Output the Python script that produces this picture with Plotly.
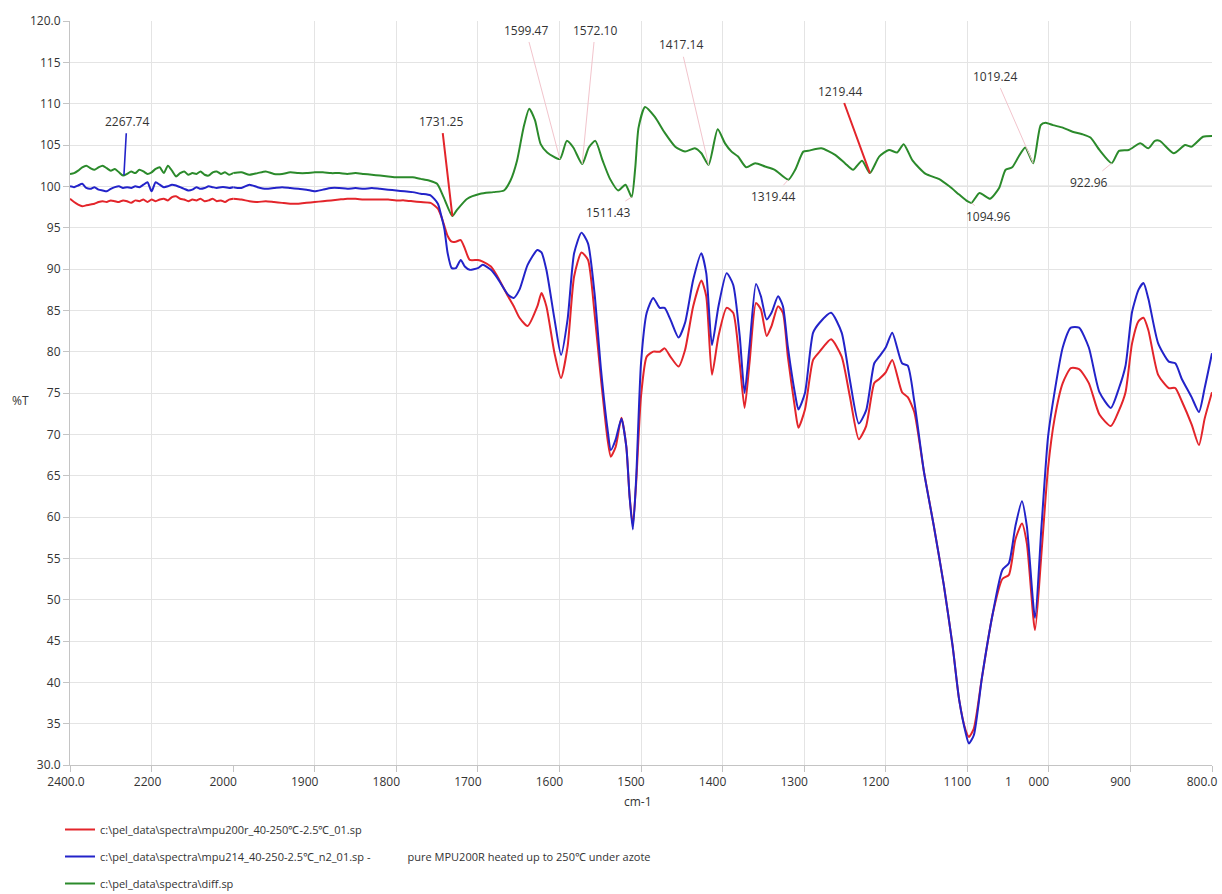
import numpy as np
import plotly.graph_objects as go

# ---------------------------------------------------------------------------
# Spectra (%T versus wavenumber, cm-1)
# ---------------------------------------------------------------------------
# noisy high-wavenumber section, 10 cm-1 steps from 2400 down to 1770
wn_noise = list(range(2400, 1760, -10))

red_noise = [
    98.5, 98.1, 97.8, 97.6, 97.7, 97.8, 97.9, 98.1, 98.2, 98.1,
    98.3, 98.2, 98.1, 98.3, 98.2, 98.0, 98.3, 98.2, 98.4, 98.1,
    98.4, 98.2, 98.4, 98.5, 98.3, 98.7, 98.8, 98.5, 98.4, 98.2,
    98.4, 98.3, 98.5, 98.2, 98.3, 98.5, 98.2, 98.3, 98.1, 98.4,
    98.5, 98.4, 98.2, 98.1, 98.2, 98.1, 98.0, 97.9, 97.9, 98.0,
    98.1, 98.2, 98.3, 98.4, 98.5, 98.5, 98.4, 98.4, 98.4, 98.4,
    98.3, 98.3, 98.2, 98.1,
]
blue_noise = [
    100.0, 99.9, 100.1, 100.3, 99.8, 99.7, 99.9, 99.6, 99.5, 99.4,
    99.7, 99.9, 100.0, 99.8, 99.9, 99.8, 100.0, 99.9, 100.2, 100.5,
    99.4, 100.5, 100.2, 99.9, 100.0, 100.2, 100.1, 99.9, 99.7, 99.5,
    99.6, 99.9, 99.7, 99.8, 100.0, 99.9, 99.8, 99.9, 99.9, 99.8,
    99.9, 99.8, 100.2, 99.9, 99.7, 99.8, 99.9, 99.8, 99.7, 99.6,
    99.4, 99.6, 99.8, 99.8, 99.7, 99.8, 99.7, 99.8, 99.7, 99.6,
    99.5, 99.4, 99.3, 99.1,
]
green_noise = [
    101.5, 101.6, 101.9, 102.3, 102.5, 102.2, 102.0, 102.3, 102.5, 102.2,
    101.9, 102.1, 101.7, 101.3, 101.5, 101.8, 101.6, 102.0, 101.8, 101.5,
    101.7, 102.1, 102.3, 101.6, 102.5, 101.9, 101.2, 101.6, 101.8, 101.4,
    101.6, 101.5, 101.8, 101.4, 101.3, 101.7, 101.8, 101.5, 101.7, 101.4,
    101.6, 101.7, 101.4, 101.6, 101.8, 101.5, 101.5, 101.7, 101.6, 101.6,
    101.7, 101.7, 101.6, 101.6, 101.5, 101.6, 101.5, 101.4, 101.3, 101.2,
    101.1, 101.1, 101.1, 100.9,
]

# fingerprint section of the two sample spectra (shared wavenumbers)
wn_band = [
    1758, 1749, 1745, 1741, 1737, 1732, 1727, 1721, 1716, 1710,
    1700, 1694, 1684, 1676, 1663, 1656, 1649, 1639, 1627, 1622,
    1616, 1606, 1598, 1590, 1582, 1573, 1565, 1557, 1549, 1541,
    1537, 1531, 1524, 1518, 1514, 1510, 1506, 1500, 1493, 1485,
    1477, 1471, 1464, 1454, 1446, 1436, 1426, 1420, 1413, 1405,
    1395, 1387, 1379, 1373, 1367, 1359, 1353, 1346, 1340, 1332,
    1326, 1320, 1311, 1307, 1299, 1289, 1281, 1267, 1254, 1244,
    1233, 1224, 1214, 1208, 1200, 1192, 1180, 1173, 1165, 1153,
    1141, 1129, 1118, 1110, 1102, 1098, 1092, 1082, 1069, 1057,
    1049, 1041, 1033, 1027, 1017, 1009, 1001, 993, 983, 973,
    963, 951, 938, 924, 914, 906, 898, 890, 884, 878,
    866, 853, 845, 837, 825, 816, 809, 800,
]
red_band = [
    98.0, 97.3, 96.4, 95.2, 94.0, 93.3, 93.3, 93.5, 92.5, 91.1,
    91.1, 90.9, 90.3, 89.1, 86.7, 85.5, 84.1, 83.1, 85.5, 87.1,
    85.5, 79.8, 76.8, 80.6, 89.1, 92.0, 91.1, 84.7, 76.6, 69.4,
    67.3, 68.5, 72.0, 68.5, 62.5, 59.0, 64.0, 74.6, 79.4, 80.0,
    80.0, 80.4, 79.4, 78.2, 80.2, 85.5, 88.6, 86.7, 77.2, 81.9,
    85.3, 84.7, 78.6, 73.2, 78.6, 85.9, 85.1, 81.9, 83.1, 85.5,
    84.7, 79.4, 73.0, 70.8, 73.0, 79.0, 80.0, 81.5, 79.4, 74.6,
    69.4, 71.0, 76.2, 76.7, 77.5, 79.0, 75.1, 74.5, 72.7, 65.4,
    58.9, 51.9, 44.4, 37.9, 34.2, 33.4, 34.4, 40.6, 48.2, 52.5,
    53.0, 57.3, 59.2, 56.8, 46.3, 55.7, 65.9, 71.9, 76.2, 78.0,
    77.9, 76.2, 72.4, 71.0, 72.9, 75.1, 81.0, 83.7, 84.1, 82.6,
    77.2, 75.6, 75.6, 74.0, 71.2, 68.7, 71.9, 75.1,
]
blue_band = [
    98.9, 97.9, 96.5, 94.8, 91.9, 90.1, 90.1, 91.1, 90.3, 89.9,
    90.1, 90.5, 89.9, 88.9, 86.9, 86.5, 87.5, 90.5, 92.3, 92.0,
    89.9, 83.9, 79.6, 83.9, 91.9, 94.4, 93.1, 87.1, 77.8, 70.6,
    68.1, 69.4, 71.9, 68.5, 62.5, 58.5, 64.5, 78.6, 84.7, 86.5,
    85.3, 85.3, 83.9, 81.7, 83.5, 88.7, 91.9, 89.5, 80.8, 85.5,
    89.5, 88.1, 81.9, 75.0, 80.6, 88.2, 86.7, 83.9, 84.7, 86.7,
    85.5, 80.6, 74.8, 73.0, 75.0, 82.3, 83.5, 84.7, 82.3, 76.6,
    71.3, 72.9, 78.6, 79.4, 80.5, 82.3, 78.6, 78.3, 74.0, 65.4,
    58.9, 51.9, 44.4, 37.9, 33.9, 32.6, 33.6, 40.6, 48.2, 53.6,
    54.4, 58.9, 61.9, 58.9, 47.8, 58.9, 69.7, 75.1, 80.5, 82.9,
    82.9, 80.5, 75.1, 73.2, 75.6, 78.3, 84.8, 87.5, 88.3, 86.4,
    81.0, 78.8, 78.6, 76.7, 74.5, 72.7, 75.6, 79.8,
]

# difference spectrum, fingerprint section
wn_diff = [
    1760, 1750, 1742, 1731.25, 1726, 1713, 1697, 1681, 1668, 1660,
    1652, 1644, 1637, 1630, 1623, 1615, 1599.47, 1591, 1583, 1572.10,
    1564, 1556, 1547, 1538, 1528, 1519, 1511.43, 1507, 1503, 1495,
    1483, 1471, 1458, 1446, 1434, 1426, 1417.14, 1406, 1397, 1389,
    1381, 1371, 1360, 1348, 1336, 1319.44, 1311, 1301, 1295, 1279,
    1262, 1250, 1240, 1229, 1219.44, 1208, 1196, 1186, 1178, 1167,
    1151, 1135, 1122, 1110, 1100, 1094.96, 1085, 1072, 1061, 1053,
    1045, 1037, 1029, 1019.24, 1010, 1004, 995, 983, 971, 959,
    949, 938, 922.96, 914, 902, 888, 878, 870, 864, 847,
    833, 825, 811, 800,
]
green_diff = [
    100.7, 100.3, 98.7, 96.4, 97.1, 98.5, 99.1, 99.3, 99.5, 100.7,
    103.1, 107.1, 109.4, 108.0, 105.1, 104.1, 103.3, 105.5, 104.7, 102.7,
    104.7, 105.5, 103.1, 100.9, 99.5, 100.2, 98.7, 102.3, 107.1, 109.6,
    108.4, 106.5, 104.8, 104.2, 104.6, 104.0, 102.6, 106.9, 105.2, 104.2,
    103.6, 102.3, 102.8, 102.4, 102.0, 100.8, 102.0, 104.2, 104.3, 104.6,
    103.8, 102.8, 102.0, 103.1, 101.6, 103.6, 104.4, 104.1, 105.1, 103.1,
    101.5, 100.9, 100.0, 99.0, 98.2, 98.0, 99.2, 98.5, 99.8, 102.0,
    102.3, 103.6, 104.7, 102.8, 107.4, 107.7, 107.4, 107.1, 106.6, 106.3,
    105.9, 104.4, 102.8, 104.3, 104.4, 105.2, 104.6, 105.5, 105.5, 104.0,
    105.0, 104.8, 106.0, 106.1,
]

# labelled peaks of the difference spectrum
peak_wn = [2267.74, 1731.25, 1599.47, 1572.10, 1511.43, 1417.14,
           1319.44, 1219.44, 1094.96, 1019.24, 922.96]

# tick labels (the "1 000" label is split: "000" sits on the tick, "1" to its left)
x_lo_ticks = [2400, 2200]
x_lo_text = ["2400.0", "2200"]
x_hi_ticks = [2000, 1900, 1800, 1700, 1600, 1500, 1400, 1300, 1200, 1100, 1000, 900, 800]
x_hi_text = ["2000", "1900", "1800", "1700", "1600", "1500", "1400", "1300",
             "1200", "1100", "000", "900", "800.0"]
thousands_digit = "1"
y_ticks = list(range(30, 121, 5))
y_text = ["30.0"] + [str(v) for v in y_ticks[1:-1]] + ["120.0"]

names = [
    "c:\\pel_data\\spectra\\mpu200r_40-250\u2103-2.5\u2103_01.sp",
    "c:\\pel_data\\spectra\\mpu214_40-250-2.5\u2103_n2_01.sp -"
    + "\u00a0" * 13 + "pure MPU200R heated up to 250\u2103 under azote",
    "c:\\pel_data\\spectra\\diff.sp",
]

# ---------------------------------------------------------------------------
# styling
# ---------------------------------------------------------------------------
RED, BLUE, GREEN = "#e3252b", "#2323c9", "#2b8a2b"
PINK = "#f2c4cc"
GRID, AXIS, TXT = "#e4e4e4", "#c4c4c4", "#333333"
FONT = "Open Sans, Liberation Sans, sans-serif"
W, H = 1222, 894
ML, MR, MT, MB = 70, 10, 21, 129
PW, PH = W - ML - MR, H - MT - MB

# label offsets (pixels from the marked point to the label centre) and leader colours
peak_offsets = [(3, -54), (-11, -95), (-34, -129), (13, -134), (-24, 15), (-28, -120),
                (-15, 17), (-30, -82), (17, 14), (-38, -87), (-23, 19)]
peak_colors = [BLUE, RED, PINK, PINK, PINK, PINK, PINK, RED, PINK, PINK, PINK]
peak_widths = [1.6, 2, 1, 1, 1, 1, 1, 2, 1, 1, 1]

series = [
    (wn_noise + wn_band, red_noise + red_band, RED),
    (wn_noise + wn_band, blue_noise + blue_band, BLUE),
    (wn_noise + wn_diff, green_noise + green_diff, GREEN),
]

fig = go.Figure()

# the 2400-2000 section is drawn at half scale on its own x axis
for i, (wn, t, color) in enumerate(series):
    wn = np.asarray(wn, float)
    t = np.asarray(t, float)
    hi = wn >= 2000
    lo = wn <= 2000
    fig.add_trace(go.Scatter(
        x=wn[hi], y=t[hi], xaxis="x", yaxis="y", mode="lines",
        line=dict(color=color, width=2, shape="spline", smoothing=0.6),
        legendgroup=f"s{i}", showlegend=False, hoverinfo="skip"))
    fig.add_trace(go.Scatter(
        x=wn[lo], y=t[lo], xaxis="x2", yaxis="y", mode="lines",
        line=dict(color=color, width=2, shape="spline", smoothing=0.6),
        legendgroup=f"s{i}", name=names[i], showlegend=True))

# zero line of the difference spectrum
fig.add_shape(type="line", xref="x2", yref="y", x0=1760, x1=800, y0=100, y1=100,
              line=dict(color="#9a9a9a", width=1), layer="below")

# peak labels with leader lines
g_wn = np.asarray(wn_noise + wn_diff, float)
g_t = np.asarray(green_noise + green_diff, float)
order = np.argsort(g_wn)
for wn, (ax, ay), col, lw in zip(peak_wn, peak_offsets, peak_colors, peak_widths):
    yv = float(np.interp(wn, g_wn[order], g_t[order]))
    fig.add_annotation(
        x=wn, y=yv, xref="x" if wn > 2000 else "x2", yref="y",
        text=f"{wn:.2f}", showarrow=True, arrowhead=0, arrowwidth=lw,
        arrowcolor=col, ax=ax, ay=ay, standoff=0, startstandoff=2,
        font=dict(family=FONT, size=12, color=TXT))

# axis captions
fig.add_annotation(text="%T", xref="paper", yref="paper",
                   x=(20 - ML) / PW, y=(H - MB - 400) / PH,
                   xanchor="center", yanchor="middle",
                   showarrow=False, font=dict(family=FONT, size=12, color=TXT))
fig.add_annotation(text="cm-1", xref="paper", yref="paper",
                   x=(638 - ML) / PW, y=(H - MB - 801) / PH,
                   xanchor="center", yanchor="middle",
                   showarrow=False, font=dict(family=FONT, size=12, color=TXT))
# leading digit of the "1 000" tick label
fig.add_annotation(text=thousands_digit, xref="x2", yref="paper",
                   x=1049, y=0, yshift=-16, xanchor="center", yanchor="middle",
                   showarrow=False, font=dict(family=FONT, size=12, color=TXT))

axis_common = dict(showgrid=True, gridcolor=GRID, gridwidth=1, zeroline=False,
                   showline=True, linecolor=AXIS, linewidth=1,
                   ticks="outside", ticklen=6, tickcolor=AXIS,
                   ticklabeloverflow="allow",
                   tickfont=dict(family=FONT, size=12, color=TXT))

fig.update_layout(
    width=W, height=H,
    margin=dict(l=ML, r=MR, t=MT, b=MB, autoexpand=False),
    paper_bgcolor="white", plot_bgcolor="white",
    font=dict(family=FONT, size=12, color=TXT),
    xaxis=dict(domain=[0, 1 / 7], range=[2400, 2000], tickmode="array",
               tickvals=x_lo_ticks, ticktext=x_lo_text, anchor="y",
               ticklabelshift=4, **axis_common),
    xaxis2=dict(domain=[1 / 7, 1], range=[2000, 800], tickmode="array",
                tickvals=x_hi_ticks, ticktext=x_hi_text, anchor="y",
                ticklabelshift=10, **axis_common),
    yaxis=dict(range=[30, 120], tickmode="array", tickvals=y_ticks, ticktext=y_text,
               **axis_common),
    showlegend=True,
    legend=dict(xref="container", yref="container",
                x=60 / W, y=(H - 815) / H, xanchor="left", yanchor="top",
                orientation="v", tracegroupgap=8, bgcolor="rgba(0,0,0,0)",
                font=dict(family=FONT, size=11, color=TXT), itemwidth=30),
    hovermode=False,
)

fig.write_html("out.html")
